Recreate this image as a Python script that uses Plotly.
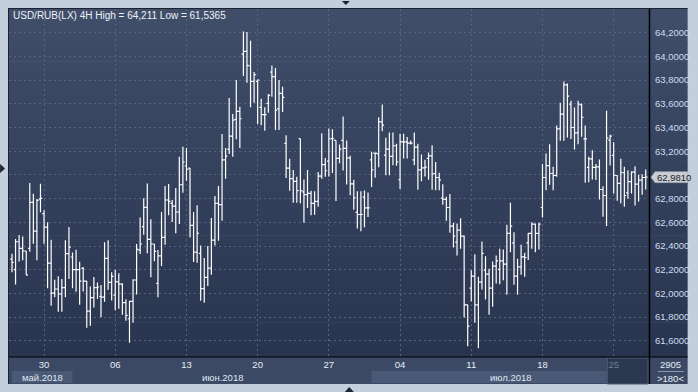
import plotly.graph_objects as go

# ---------------- data (USD/RUB 4H bars) ----------------
opens = [62.290, 62.200, 62.436, 62.380, 62.358, 62.380, 62.768, 62.526, 62.796, 62.673,
         62.560, 62.256, 62.003, 62.037, 61.995, 62.048, 62.335, 62.307, 62.200, 62.200,
         62.211, 62.104, 61.851, 61.964, 62.048, 61.975, 61.969, 62.296, 62.093, 61.986,
         62.096, 62.079, 61.922, 61.786, 61.933, 62.113, 62.366, 62.563, 62.726, 62.456,
         62.417, 62.085, 62.316, 62.473, 62.788, 62.760, 62.737, 62.687, 62.917, 63.075,
         63.058, 62.574, 62.349, 62.338, 62.040, 62.136, 62.214, 62.450, 62.760, 62.749,
         63.126, 63.216, 63.328, 63.469, 63.536, 64.020, 64.043, 63.919, 63.789, 63.789,
         63.570, 63.508, 63.604, 63.868, 63.829, 63.559, 63.688, 63.266, 63.058, 62.968,
         62.946, 63.306, 62.856, 62.833, 62.844, 62.760, 62.777, 62.990, 63.086, 63.116,
         63.305, 63.291, 63.139, 63.291, 63.223, 63.144, 62.925, 62.683, 62.666, 62.812,
         62.722, 63.127, 63.184, 63.178, 63.448, 63.167, 63.217, 63.156, 63.246, 62.959,
         63.279, 63.279, 63.268, 63.127, 63.234, 63.043, 63.060, 63.139, 63.161, 63.012,
         62.978, 62.804, 62.793, 62.725, 62.568, 62.433, 62.534, 62.483, 61.904, 62.044,
         62.146, 61.904, 62.095, 62.196, 62.163, 62.044, 62.230, 62.202, 62.275, 62.247,
         62.506, 62.427, 62.146, 62.224, 62.309, 62.427, 62.506, 62.584, 62.506, 62.725,
         62.978, 63.079, 63.012, 62.995, 63.389, 63.513, 63.760, 63.597, 63.400, 63.355,
         63.591, 63.304, 63.063, 63.136, 63.063, 63.068, 62.877, 62.826, 63.293, 63.164,
         62.995, 62.928, 63.018, 62.849, 62.944, 63.023, 62.922, 62.956, 62.978]

highs = [62.335, 62.459, 62.493, 62.481, 62.358, 62.931, 62.841, 62.796, 62.926, 62.701,
         62.600, 62.453, 62.116, 62.144, 62.121, 62.448, 62.560, 62.346, 62.369, 62.268,
         62.223, 62.104, 62.059, 62.138, 62.093, 62.071, 62.431, 62.448, 62.178, 62.200,
         62.169, 62.085, 61.950, 61.939, 62.119, 62.417, 62.641, 62.804, 62.928, 62.625,
         62.417, 62.366, 62.687, 62.906, 62.923, 62.788, 62.889, 63.154, 63.238, 63.227,
         63.058, 62.687, 62.743, 62.405, 62.299, 62.400, 62.636, 62.822, 62.906, 63.345,
         63.227, 63.649, 63.514, 63.801, 63.576, 64.211, 64.205, 64.133, 63.868, 63.806,
         63.643, 63.570, 63.683, 63.924, 63.902, 63.801, 63.744, 63.334, 63.137, 63.041,
         62.985, 63.306, 62.962, 63.041, 62.867, 62.861, 63.024, 63.351, 63.142, 63.392,
         63.386, 63.291, 63.257, 63.493, 63.291, 63.161, 62.959, 62.863, 62.863, 62.869,
         62.852, 63.195, 63.189, 63.487, 63.594, 63.313, 63.358, 63.358, 63.262, 63.347,
         63.347, 63.319, 63.291, 63.358, 63.262, 63.172, 63.127, 63.189, 63.251, 63.108,
         63.018, 62.922, 62.815, 62.838, 62.596, 62.590, 62.635, 62.489, 61.904, 62.196,
         62.331, 62.140, 62.438, 62.314, 62.207, 62.269, 62.320, 62.376, 62.371, 62.579,
         62.764, 62.517, 62.292, 62.410, 62.342, 62.510, 62.601, 62.590, 62.596, 63.091,
         63.181, 63.259, 63.068, 63.417, 63.608, 63.788, 63.771, 63.625, 63.569, 63.625,
         63.603, 63.417, 63.153, 63.209, 63.091, 63.130, 62.905, 63.541, 63.338, 63.276,
         62.999, 63.136, 63.068, 63.040, 63.030, 63.074, 63.001, 63.006, 63.046]

lows = [62.178, 62.076, 62.270, 62.279, 62.155, 62.352, 62.420, 62.279, 62.684, 62.420,
        62.043, 61.896, 61.967, 61.846, 61.846, 61.967, 62.121, 62.043, 62.014, 61.905,
        62.017, 61.711, 61.728, 61.882, 61.953, 61.798, 61.930, 62.031, 61.941, 61.857,
        61.871, 61.820, 61.769, 61.584, 61.753, 61.990, 62.332, 62.495, 62.338, 62.136,
        62.271, 61.967, 62.231, 62.411, 62.659, 62.602, 62.507, 62.585, 62.850, 62.951,
        62.473, 62.265, 62.259, 61.939, 61.922, 62.062, 62.158, 62.405, 62.445, 62.613,
        62.968, 63.176, 63.154, 63.300, 63.227, 63.834, 63.778, 63.570, 63.609, 63.429,
        63.418, 63.373, 63.525, 63.660, 63.379, 63.379, 63.531, 62.974, 62.867, 62.765,
        62.765, 62.760, 62.597, 62.720, 62.659, 62.664, 62.732, 62.968, 62.985, 62.987,
        63.015, 62.779, 63.099, 63.037, 62.919, 62.829, 62.705, 62.548, 62.525, 62.559,
        62.644, 62.897, 62.975, 63.065, 63.369, 62.998, 62.998, 63.082, 63.077, 62.880,
        63.139, 63.139, 63.257, 63.082, 62.874, 62.947, 62.987, 62.959, 62.874, 62.871,
        62.871, 62.748, 62.613, 62.511, 62.388, 62.320, 62.376, 61.797, 61.555, 61.932,
        61.752, 61.5365, 62.033, 61.949, 61.819, 61.887, 62.084, 62.078, 62.112, 61.988,
        62.348, 62.072, 61.988, 62.157, 62.140, 62.281, 62.376, 62.348, 62.371, 62.641,
        62.871, 62.916, 62.871, 62.984, 63.288, 63.288, 63.316, 63.304, 63.214, 63.259,
        63.321, 62.933, 62.939, 62.961, 62.956, 62.793, 62.646, 62.568, 63.079, 62.843,
        62.781, 62.759, 62.731, 62.798, 62.843, 62.742, 62.776, 62.832, 62.877]

closes = [62.262, 62.436, 62.380, 62.358, 62.155, 62.768, 62.526, 62.785, 62.802, 62.560,
          62.256, 62.003, 62.037, 61.995, 62.048, 62.335, 62.391, 62.200, 62.200, 62.104,
          62.104, 61.851, 61.964, 62.048, 62.054, 61.969, 62.296, 62.093, 62.144, 62.099,
          62.079, 61.922, 61.814, 61.933, 62.113, 62.372, 62.417, 62.726, 62.456, 62.417,
          62.355, 62.316, 62.473, 62.788, 62.777, 62.737, 62.687, 62.917, 63.109, 63.047,
          62.574, 62.349, 62.507, 62.040, 62.136, 62.214, 62.450, 62.760, 62.749, 63.126,
          63.159, 63.328, 63.463, 63.536, 63.474, 64.043, 63.924, 63.789, 63.846, 63.801,
          63.508, 63.508, 63.671, 63.829, 63.547, 63.688, 63.654, 63.058, 62.968, 62.946,
          62.867, 62.867, 62.833, 62.844, 62.760, 62.777, 62.990, 63.086, 63.035, 63.305,
          63.305, 63.139, 63.217, 63.223, 63.144, 62.925, 62.807, 62.666, 62.666, 62.722,
          62.722, 63.043, 63.184, 63.448, 63.420, 63.217, 63.156, 63.246, 63.110, 63.279,
          63.279, 63.268, 63.268, 63.234, 63.043, 63.060, 63.065, 63.161, 63.009, 62.978,
          62.956, 62.793, 62.725, 62.568, 62.483, 62.534, 62.483, 61.904, 61.724, 62.146,
          61.904, 62.095, 62.337, 62.163, 62.044, 62.230, 62.275, 62.275, 62.247, 62.506,
          62.568, 62.146, 62.224, 62.309, 62.303, 62.506, 62.584, 62.506, 62.584, 62.978,
          63.079, 63.012, 62.995, 63.389, 63.513, 63.760, 63.665, 63.400, 63.355, 63.597,
          63.485, 63.304, 63.136, 63.063, 63.068, 62.877, 62.826, 63.310, 63.327, 62.995,
          62.928, 63.018, 62.826, 62.944, 63.023, 62.922, 62.956, 62.978, 62.981]

bars = list(range(1, len(closes) + 1))
week_tick_bars = [10, 30, 50, 70, 90, 110, 130, 150, 170]
week_tick_labels = ["30", "06", "13", "20", "27", "04", "11", "18", "25"]
price_ticks = [61.6, 61.8, 62.0, 62.2, 62.4, 62.6, 62.8, 63.0, 63.2, 63.4, 63.6, 63.8, 64.0, 64.2]
month_labels = ["май.2018", "июн.2018", "июл.2018"]
title_text = "USD/RUB(LX) 4H High = 64,211 Low = 61,5365"
corner_top = "2905"
corner_bottom = ">180<"

# ---------------- geometry helpers (pixels -> paper) ----------------
W, H = 698, 392
PL, PR, PT, PB = 9, 655, 9, 357
def px(x):
    return (x - PL) / (PR - PL)
def py(y):
    return (PB - y) / (PB - PT)

FONT = "Liberation Sans, Arial, sans-serif"
shapes = []
annotations = []

# gradient background of chart + right axis panel
top_c = (64, 78, 106)
bot_c = (41, 52, 78)
n = 40
for i in range(n):
    t = (i + 0.5) / n
    c = tuple(int(round(top_c[k] + (bot_c[k] - top_c[k]) * t)) for k in range(3))
    y0 = PT + (PB - PT) * i / n
    y1 = PT + (PB - PT) * (i + 1) / n + 0.6
    shapes.append(dict(type="rect", xref="paper", yref="paper", layer="below",
                       x0=px(8), x1=px(694), y0=py(y1), y1=py(y0),
                       fillcolor="rgb(%d,%d,%d)" % c, line=dict(width=0)))

# bottom date panel
shapes.append(dict(type="rect", xref="paper", yref="paper", layer="below",
                   x0=px(8), x1=px(694), y0=py(384), y1=py(357),
                   fillcolor="#3b4964", line=dict(width=0)))
# month boxes
for xa, xb in [(12, 73), (375, 612)]:
    shapes.append(dict(type="rect", xref="paper", yref="paper", layer="below",
                       x0=px(xa), x1=px(xb), y0=py(383), y1=py(371),
                       fillcolor="#4a5975", line=dict(width=0)))
# dark scroll box at right of date panel (below the tick labels)
shapes.append(dict(type="rect", xref="paper", yref="paper", layer="below",
                   x0=px(613), x1=px(654), y0=py(384), y1=py(358),
                   fillcolor="#2c3850", line=dict(color="#4c5a74", width=1)))
# separators
shapes.append(dict(type="line", xref="paper", yref="paper", layer="above",
                   x0=px(655.5), x1=px(655.5), y0=py(384), y1=py(8),
                   line=dict(color="#000000", width=1.5)))
shapes.append(dict(type="line", xref="paper", yref="paper", layer="above",
                   x0=px(8), x1=px(694), y0=py(357), y1=py(357),
                   line=dict(color="#000000", width=1.2)))
shapes.append(dict(type="line", xref="paper", yref="paper", layer="above",
                   x0=px(8.5), x1=px(8.5), y0=py(384), y1=py(8),
                   line=dict(color="#1b2130", width=1)))
shapes.append(dict(type="line", xref="paper", yref="paper", layer="above",
                   x0=px(8), x1=px(694), y0=py(8.5), y1=py(8.5),
                   line=dict(color="#1b2130", width=1)))
shapes.append(dict(type="line", xref="paper", yref="paper", layer="above",
                   x0=px(664), x1=px(690), y0=py(371.5), y1=py(371.5),
                   line=dict(color="#8a98b0", width=1)))

# small frame triangles
def tri(pts, color="#1e2532"):
    path = "M " + " L ".join("%f,%f" % (px(a), py(b)) for a, b in pts) + " Z"
    shapes.append(dict(type="path", xref="paper", yref="paper", layer="above",
                       path=path, fillcolor=color, line=dict(width=0)))
tri([(345, 1), (353, 1), (349, 5)])
tri([(348, 392), (357, 392), (352.5, 387)])
tri([(0, 164), (0, 173), (5, 168.5)])

# last price tag on the right axis
last = closes[-1]
shapes.append(dict(type="path", xref="paper", yref="y", layer="above",
                   xsizemode="pixel", ysizemode="pixel", xanchor=1, yanchor=last,
                   path="M 2,0 L 6,5.5 L 39,5.5 L 39,-5.5 L 6,-5.5 Z",
                   fillcolor="#c9cdd4", line=dict(color="#9aa2ae", width=0.6)))
annotations.append(dict(xref="paper", yref="y", x=px(661), y=last, xanchor="left",
                        yanchor="middle", showarrow=False,
                        text=("%.4f" % last).replace(".", ","),
                        font=dict(family=FONT, size=9.5, color="#1a1d24")))

# title
annotations.append(dict(xref="paper", yref="paper", x=px(11), y=py(15.5), xanchor="left",
                        yanchor="middle", showarrow=False, text=title_text,
                        font=dict(family=FONT, size=10, color="#eef2f8")))
# month labels
for lab, cx in zip(month_labels, [42.5, 225, 515.5]):
    annotations.append(dict(xref="paper", yref="paper", x=px(cx), y=py(377.5),
                            xanchor="center", yanchor="middle", showarrow=False, text=lab,
                            font=dict(family=FONT, size=9.5, color="#dfe7f3")))
# corner cell
annotations.append(dict(xref="paper", yref="paper", x=px(677), y=py(364.5),
                        xanchor="center", yanchor="middle", showarrow=False, text=corner_top,
                        font=dict(family=FONT, size=9.5, color="#e6edf7")))
annotations.append(dict(xref="paper", yref="paper", x=px(677), y=py(378),
                        xanchor="center", yanchor="middle", showarrow=False, text=corner_bottom,
                        font=dict(family=FONT, size=9.5, color="#e6edf7")))

ticktext = list(week_tick_labels)
ticktext[-1] = '<span style="color:#6e7c94">%s</span>' % ticktext[-1]

# y tick labels; the one hidden under the last-price tag is left blank
price_text = []
for v in price_ticks:
    s = ("%.4f" % v).replace(".", ",")
    if abs(v - last) < 0.06:
        s = ""
    price_text.append(s)

fig = go.Figure()
fig.add_trace(go.Ohlc(
    x=bars, open=opens, high=highs, low=lows, close=closes,
    increasing=dict(line=dict(color="#ffffff", width=1.2)),
    decreasing=dict(line=dict(color="#ffffff", width=1.2)),
    tickwidth=0.5, hoverinfo="skip", showlegend=False,
))

ylo = 64.2 - (PB - 32.7) / 118.5
yhi = 64.2 + (32.7 - PT) / 118.5
fig.update_layout(
    width=W, height=H,
    margin=dict(l=PL, r=W - PR, t=PT, b=H - PB, pad=0),
    paper_bgcolor="#c4cfdd",
    plot_bgcolor="rgba(0,0,0,0)",
    showlegend=False,
    shapes=shapes,
    annotations=annotations,
    xaxis=dict(
        range=[0.16, 179.92], rangeslider=dict(visible=False),
        tickmode="array", tickvals=week_tick_bars, ticktext=ticktext,
        showgrid=True, gridcolor="#56647f", griddash="2px,3px", gridwidth=1,
        zeroline=False, showline=False, ticks="",
        tickfont=dict(family=FONT, size=9.5, color="#e6edf7"),
        fixedrange=True,
    ),
    yaxis=dict(
        side="right", range=[ylo, yhi],
        tickmode="array", tickvals=price_ticks, ticktext=price_text,
        showgrid=True, gridcolor="#56647f", griddash="2px,3px", gridwidth=1,
        zeroline=False, showline=False, ticks="", ticklabelstandoff=5,
        tickfont=dict(family=FONT, size=9.5, color="#cfdcf1"),
        fixedrange=True,
    ),
)

fig.write_html("out.html")
